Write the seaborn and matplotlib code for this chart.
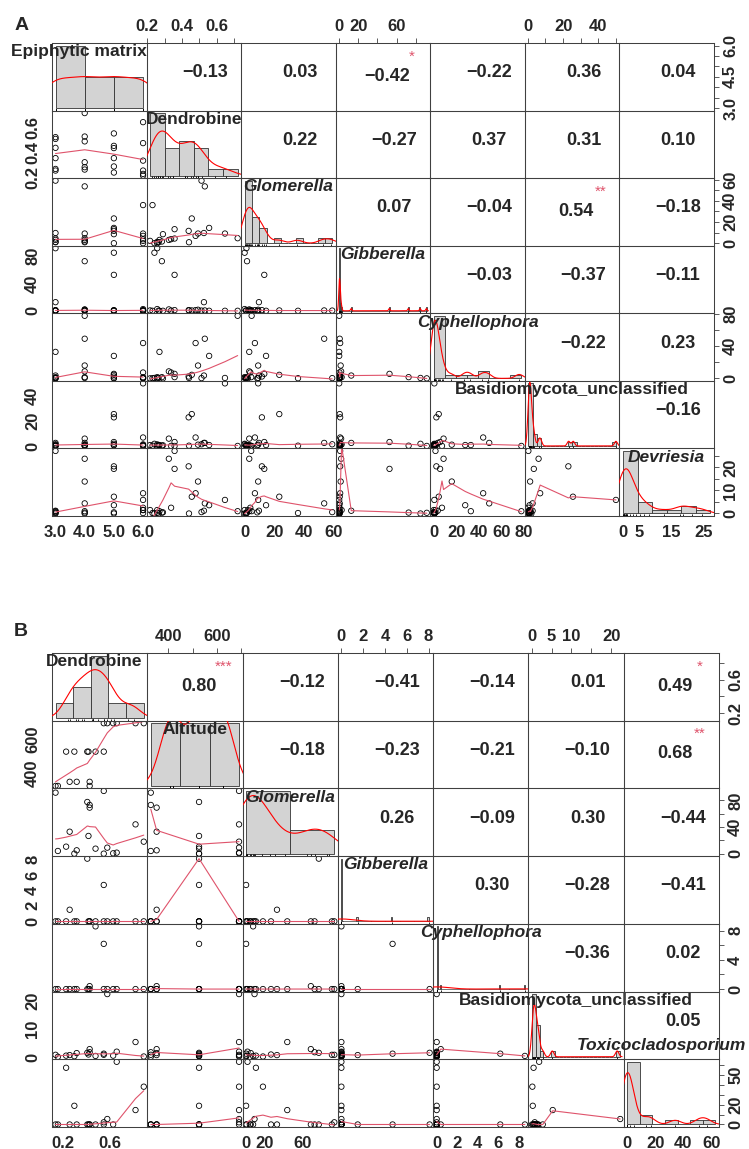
import numpy as np
import pandas as pd
import matplotlib
matplotlib.use("Agg")
import matplotlib.pyplot as plt
import seaborn as sns

# ---------------- panel A : epiphytic matrix (24 samples) ----------------
a_names = ["Epiphytic matrix", "Dendrobine", "Glomerella", "Gibberella",
           "Cyphellophora", "Basidiomycota_unclassified", "Devriesia"]
a_italic = [False, False, True, True, True, False, True]

a_epiphytic = [3, 3, 3, 3, 3, 3, 4, 4, 4, 4, 4, 4,
               5, 5, 5, 5, 5, 5, 6, 6, 6, 6, 6, 6]
a_dendrobine = [0.512, 0.526, 0.357, 0.270, 0.257, 0.440,
                0.720, 0.531, 0.492, 0.324, 0.284, 0.265,
                0.556, 0.456, 0.438, 0.357, 0.241, 0.290,
                0.647, 0.478, 0.337, 0.257, 0.230, 0.216]
a_glomerella = [59.0, 9.7, 4.5, 3.2, 1.3, 1.0,
                4.8, 53.6, 9.2, 3.2, 1.7, 1.0,
                14.5, 23.4, 11.7, 13.3, 0.1, 8.6,
                9.2, 7.0, 3.9, 0.1, 36.0, 2.3]
a_gibberella = [0.3, 12.6, 1.0, 0.0, 91.6, 0.5,
                0.0, 0.5, 1.5, 2.0, 72.6, 0.2,
                0.0, 0.5, 1.0, 52.6, 85.0, 0.0,
                0.0, 1.0, 0.3, 2.5, 0.0, 0.5]
a_cyphellophora = [0.3, 3.5, 1.5, 33.0, 0.0, 0.5,
                   78.0, 49.4, 16.0, 8.7, 1.5, 0.5,
                   28.0, 4.4, 2.3, 5.6, 0.5, 0.0,
                   0.5, 44.0, 7.3, 1.5, 0.2, 0.0]
a_basidio = [1.6, 2.7, 0.3, 1.0, 0.3, 0.5,
             0.3, 2.7, 1.3, 6.1, 0.5, 1.0,
             1.0, 25.6, 23.0, 3.4, 2.0, 0.8,
             50.0, 7.0, 0.3, 1.5, 0.5, 1.0]
a_devriesia = [0.6, 1.2, 27.2, 1.0, 0.3, 0.0,
               1.0, 4.4, 13.9, 23.8, 0.4, 0.0,
               3.6, 7.3, 20.5, 19.4, 0.0, 0.5,
               5.9, 8.8, 2.5, 1.5, 0.2, 1.5]

a_cor = [[-0.13, 0.03, -0.42, -0.22, 0.36, 0.04],
         [0.22, -0.27, 0.37, 0.31, 0.10],
         [0.07, -0.04, 0.54, -0.18],
         [-0.03, -0.37, -0.11],
         [-0.22, 0.23],
         [-0.16]]
a_sig = [["", "", "*", "", "", ""],
         ["", "", "", "", ""],
         ["", "", "**", ""],
         ["", "", ""],
         ["", ""],
         [""]]

a_bins = [(3, 6, 1), (0.2, 0.8, 0.1), (0, 60, 5), (0, 92, 1),
          (0, 80, 10), (0, 50, 2.5), (0, 30, 5)]
a_ticks = [[3.0, 3.5, 4.0, 4.5, 5.0, 5.5, 6.0], [0.2, 0.3, 0.4, 0.5, 0.6, 0.7],
           [0, 10, 20, 30, 40, 50, 60], [0, 20, 40, 60, 80], [0, 20, 40, 60, 80],
           [0, 10, 20, 30, 40, 50], [0, 5, 10, 15, 20, 25]]
a_xlab = [[3.0, 4.0, 5.0, 6.0], [0.2, 0.4, 0.6], [0, 20, 40, 60], [0, 20, 60],
          [0, 20, 40, 60, 80], [0, 20, 40], [0, 5, 15, 25]]
a_ylab = [[3.0, 4.5, 6.0], [0.2, 0.4, 0.6], [0, 20, 40, 60], [0, 40, 80],
          [0, 40, 80], [0, 20, 40], [0, 10, 20]]
a_decimals = [1, 1, 0, 0, 0, 0, 0]

# ---------------- panel B : altitude (18 samples) ----------------
b_names = ["Dendrobine", "Altitude", "Glomerella", "Gibberella",
           "Cyphellophora", "Basidiomycota_unclassified", "Toxicocladosporium"]
b_italic = [False, False, True, True, True, False, True]

b_dendrobine = [0.55, 0.58, 0.63, 0.66, 0.82, 0.89,
                0.41, 0.23, 0.30, 0.42, 0.48, 0.55,
                0.26, 0.32, 0.43, 0.14, 0.43, 0.16]
b_altitude = [692, 692, 692, 692, 692, 692,
              527, 527, 527, 527, 527, 527,
              352, 352, 352, 328, 328, 328]
b_glomerella = [94.3, 9.0, 0.5, 1.5, 44.0, 18.0,
                77.7, 10.5, 0.0, 26.6, 7.5, 0.0,
                33.0, 5.0, 69.2, 91.7, 73.2, 4.0]
b_gibberella = [0, 0, 0, 0, 0, 0,
                8.1, 0, 0, 0, 0, 4.7,
                1.5, 0, 0, 0, 0, 0]
b_cyphellophora = [0, 0, 0, 0, 0, 0,
                   0, 0, 0, 0, 8.6, 6.2,
                   0, 0, 0.4, 0, 0, 0]
b_basidio = [0.8, 22.2, 0.5, 1.9, 5.3, 0.2,
             1.5, 0.5, 0.3, 0.9, 0.4, 1.2,
             0.7, 1.4, 2.8, 0.8, 1.7, 0.1]
b_toxico = [2.2, 5.5, 0.0, 63.0, 14.5, 38.0,
            0.0, 57.0, 18.8, 0.0, 0.0, 0.0,
            0.0, 0.0, 0.0, 0.0, 0.0, 0.0]

b_cor = [[0.80, -0.12, -0.41, -0.14, 0.01, 0.49],
         [-0.18, -0.23, -0.21, -0.10, 0.68],
         [0.26, -0.09, 0.30, -0.44],
         [0.30, -0.28, -0.41],
         [-0.36, 0.02],
         [0.05]]
b_sig = [["***", "", "", "", "", "*"],
         ["", "", "", "", "**"],
         ["", "", "", ""],
         ["", "", ""],
         ["", ""],
         [""]]

b_bins = [(0, 1, 0.2), (200, 800, 200), (0, 100, 50), (0, 8.2, 0.1),
          (0, 8.6, 0.1), (0, 23, 1), (0, 70, 10)]
b_ticks = [[0.2, 0.4, 0.6, 0.8], [400, 500, 600, 700], [0, 20, 40, 60, 80],
           [0, 2, 4, 6, 8], [0, 2, 4, 6, 8], [0, 5, 10, 15, 20],
           [0, 10, 20, 30, 40, 50, 60]]
b_xlab = [[0.2, 0.6], [400, 600], [0, 20, 60], [0, 2, 4, 6, 8], [0, 2, 4, 6, 8],
          [0, 5, 10, 20], [0, 20, 40, 60]]
b_ylab = [[0.2, 0.6], [400, 600], [0, 40, 80], [0, 2, 4, 6, 8], [0, 4, 8],
          [0, 10, 20], [0, 20, 50]]
b_decimals = [1, 0, 0, 0, 0, 0, 0]

W, H = 749, 1149
GRID = "#404040"
SMOOTH = "#DF536B"

sns.set_style("white")
plt.rcParams["font.family"] = ["Liberation Sans", "DejaVu Sans"]


def lowess(x, y, f=2 / 3, iters=3):
    # port of R's clowess (tied x values share the fit of the first one)
    x = np.asarray(x, float)
    y = np.asarray(y, float)
    o = np.argsort(x, kind="mergesort")
    x, y = x[o], y[o]
    n = len(x)
    ns = max(2, min(n, int(f * n + 1e-7)))
    rng = x[-1] - x[0]
    rw = np.ones(n)
    ys = np.zeros(n)
    for it in range(iters + 1):
        for i in range(n):
            if i > 0 and x[i] == x[i - 1]:
                ys[i] = ys[i - 1]
                continue
            d = np.abs(x - x[i])
            h = np.sort(d)[ns - 1]
            w = np.zeros(n)
            m = d <= 0.999 * h
            q = d[m] / h if h > 0 else np.zeros(m.sum())
            w[m] = np.where(d[m] <= 0.001 * h, 1.0, (1 - q ** 3) ** 3)
            w *= rw
            if w.sum() <= 0:
                ys[i] = y[i]
                continue
            w /= w.sum()
            a = (w * x).sum()
            c = (w * (x - a) ** 2).sum()
            if h > 0 and np.sqrt(c) > 0.001 * rng:
                b = (x[i] - a) / c
                w = w * (b * (x - a) + 1.0)
            ys[i] = (w * y).sum()
        if it == iters:
            break
        res = np.abs(y - ys)
        cmad = 6 * np.median(res)
        if cmad < 1e-7 * np.mean(np.abs(y)):
            break
        rw = np.where(res <= 0.001 * cmad, 1.0,
                      np.where(res <= 0.999 * cmad, (1 - (res / cmad) ** 2) ** 2, 0.0))
    return x, ys


def r_density(v):
    v = np.asarray(v, float)
    n = len(v)
    hi = np.std(v, ddof=1)
    q75, q25 = np.percentile(v, [75, 25])
    lo = min(hi, (q75 - q25) / 1.34)
    if lo == 0:
        lo = hi or abs(v[0]) or 1.0
    bw = 0.9 * lo * n ** -0.2
    g = np.linspace(v.min() - 3 * bw, v.max() + 3 * bw, 512)
    d = np.exp(-0.5 * ((g[:, None] - v[None, :]) / bw) ** 2).sum(1) / (n * bw * np.sqrt(2 * np.pi))
    return g, d


def fmt(v, dec):
    return f"{v:.{dec}f}" if dec else f"{v:g}"


def draw_panel(fig, data, names, italic, cor, sig, bins, ticks, xlab, ylab, dec,
               box, label_at):
    left, top, right, bottom = box
    k = len(data)
    cw = (right - left) / k
    ch = (bottom - top) / k
    data = [np.asarray(v, float) for v in data]
    usr = []
    for v in data:
        pad = 0.04 * (v.max() - v.min())
        usr.append((v.min() - pad, v.max() + pad))

    for i in range(k):
        for j in range(k):
            rect = [(left + j * cw) / W, 1 - (top + (i + 1) * ch) / H, cw / W, ch / H]
            ax = fig.add_axes(rect)
            ax.patch.set_visible(False)
            for s in ax.spines.values():
                s.set_color(GRID)
                s.set_linewidth(0.75)

            if i > j:
                sns.scatterplot(x=data[j], y=data[i], ax=ax, marker="o", s=15,
                                facecolors="none", edgecolor="black", linewidth=0.6)
                lx, ly = lowess(data[j], data[i])
                ax.plot(lx, ly, color=SMOOTH, lw=0.8)
            elif i < j:
                r = cor[i][j - i - 1]
                st = sig[i][j - i - 1]
                txt = f"{r:.2f}".replace("-", "\u2212")
                if st:
                    ax.text(0.54, 0.51, txt, transform=ax.transAxes, ha="center",
                            va="center", fontsize=13, fontweight="bold")
                    ax.text(0.80, 0.80, st, transform=ax.transAxes, ha="center",
                            va="center", fontsize=11, color=SMOOTH)
                else:
                    ax.text(0.62, 0.56, txt, transform=ax.transAxes, ha="center",
                            va="center", fontsize=13, fontweight="bold")
            else:
                v = data[i]
                b0, b1, bs = bins[i]
                edges = np.round(np.arange(b0, b1 + bs / 2, bs), 6)
                idx = np.searchsorted(edges, v, side="left") - 1
                idx[v <= edges[0]] = 0
                counts = np.bincount(idx, minlength=len(edges) - 1)[:len(edges) - 1]
                hist_df = pd.DataFrame({"mid": (edges[:-1] + edges[1:]) / 2,
                                        "n": counts.astype(float)})
                axh = fig.add_axes(rect)
                axh.patch.set_visible(False)
                sns.histplot(data=hist_df, x="mid", weights="n", bins=edges.tolist(),
                             stat="density", ax=axh, color="#D3D3D3",
                             edgecolor="#333333", linewidth=0.6, alpha=1)
                g, d = r_density(v)
                axh.plot(g, d, color="red", lw=0.8)
                sns.rugplot(x=v, ax=axh, height=0.03, color="black", linewidth=0.6)
                ymax = (counts / (len(v) * bs)).max()
                span = edges[-1] - edges[0]
                axh.set_xlim(edges[0] - 0.04 * span, edges[-1] + 0.04 * span)
                axh.set_ylim(-0.04 * ymax, 1.04 * ymax)
                axh.set_axis_off()
                lx, ly, ha = label_at.get(i, (0.5, 0.87, "center"))
                axh.text(lx, ly, names[i], transform=axh.transAxes, ha=ha, va="center",
                         fontsize=12.5, fontweight="bold", clip_on=False,
                         fontstyle="italic" if italic[i] else "normal", zorder=10)

            ax.set_xlim(usr[j])
            ax.set_ylim(usr[i])
            ax.set_xticks([])
            ax.set_yticks([])
            ax.set_xlabel("")
            ax.set_ylabel("")
            ax.tick_params(length=3.6, width=0.6, color=GRID, pad=3)

            xl = [fmt(t, dec[j]) if t in xlab[j] else "" for t in ticks[j]]
            yl = [fmt(t, dec[i]) if t in ylab[i] else "" for t in ticks[i]]
            if i == 0 and j % 2 == 1:
                ax.xaxis.tick_top()
                ax.set_xticks(ticks[j], labels=xl, fontsize=12, fontweight="bold")
            if i == k - 1 and j % 2 == 0:
                ax.set_xticks(ticks[j], labels=xl, fontsize=12, fontweight="bold")
            if j == 0 and i % 2 == 1:
                ax.set_yticks(ticks[i], labels=yl, fontsize=12, fontweight="bold",
                              rotation=90, va="center")
                ax.tick_params(axis="y", pad=5)
            if j == k - 1 and i % 2 == 0:
                ax.yaxis.tick_right()
                ax.set_yticks(ticks[i], labels=yl, fontsize=12, fontweight="bold",
                              rotation=90, va="center")


fig = plt.figure(figsize=(W / 100, H / 100), dpi=100)

a_data = [a_epiphytic, a_dendrobine, a_glomerella, a_gibberella,
          a_cyphellophora, a_basidio, a_devriesia]
b_data = [b_dendrobine, b_altitude, b_glomerella, b_gibberella,
          b_cyphellophora, b_basidio, b_toxico]

draw_panel(fig, a_data, a_names, a_italic, a_cor, a_sig, a_bins, a_ticks,
           a_xlab, a_ylab, a_decimals, (52, 43, 714, 516),
           {0: (1.0, 0.87, "right")})
draw_panel(fig, b_data, b_names, b_italic, b_cor, b_sig, b_bins, b_ticks,
           b_xlab, b_ylab, b_decimals, (52, 653, 719, 1127),
           {0: (0.95, 0.87, "right"), 6: (0.40, 1.20, "center")})

fig.text(21.5 / W, 1 - 26 / H, "A", fontsize=14, fontweight="bold", ha="center", va="center")
fig.text(20.5 / W, 1 - 631 / H, "B", fontsize=14, fontweight="bold", ha="center", va="center")

fig.savefig("out.png", dpi=100)
